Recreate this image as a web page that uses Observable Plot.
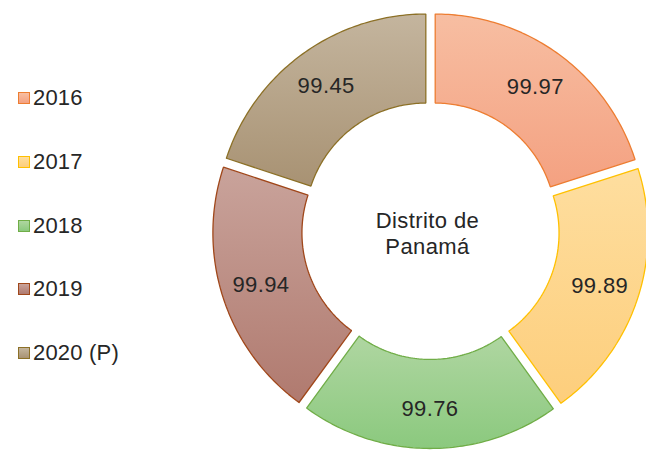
<!DOCTYPE html>
<html>
<head>
<meta charset="utf-8">
<script src="https://cdn.jsdelivr.net/npm/d3@7"></script>
<script src="https://cdn.jsdelivr.net/npm/@observablehq/plot@0.6"></script>
<style>
  html, body { margin: 0; padding: 0; background: #fff; }
  #wrap { position: relative; width: 646px; height: 452px; overflow: hidden; font-family: "Liberation Sans", Arial, sans-serif; }
  #legend { position: absolute; left: 0; top: 0; }
  .row { position: absolute; left: 18px; display: flex; align-items: center; height: 26px; color: #262626; font-size: 22px; white-space: nowrap; letter-spacing: 0.2px; }
  .sw { width: 10px; height: 10px; margin-right: 3px; border: 1.5px solid; flex: none; }
  svg text { letter-spacing: 0.4px; }
</style>
</head>
<body>
<div id="wrap"><div id="legend"></div></div>
<script>
// ---- data ----
const years = ["2016", "2017", "2018", "2019", "2020 (P)"];
const values = [99.97, 99.89, 99.76, 99.94, 99.45];
const valueLabels = ["99.97", "99.89", "99.76", "99.94", "99.45"];
const centerLabel = "Distrito de\nPanamá";
// ---- styles ----
const topColors = ["#F7BEA2", "#FEDE9F", "#AFD6A1", "#C9A39B", "#C4B59E"];
const bottomColors = ["#F4A181", "#FDCE7C", "#8BC97E", "#B07A6F", "#A89273"];
const strokeColors = ["#ED7D31", "#FFC000", "#70AD47", "#A0471A", "#8C7026"];

const RI = 0.576;   // inner radius (outer = 1)
const OFF = 0.038;  // explosion offset
const LR = 0.81;    // label radius

const arcs = d3.pie().sort(null).value(d => d)(values);

function slicePoints(a, i) {
  const mid = (a.startAngle + a.endAngle) / 2;
  const ox = OFF * Math.sin(mid), oy = OFF * Math.cos(mid);
  const pts = [];
  const n = 80;
  for (let k = 0; k <= n; k++) {
    const t = a.startAngle + (a.endAngle - a.startAngle) * k / n;
    pts.push({x: ox + Math.sin(t), y: oy + Math.cos(t), i});
  }
  for (let k = n; k >= 0; k--) {
    const t = a.startAngle + (a.endAngle - a.startAngle) * k / n;
    pts.push({x: ox + RI * Math.sin(t), y: oy + RI * Math.cos(t), i});
  }
  pts.push(pts[0]);
  return pts;
}

const labelData = arcs.map((a, i) => {
  const mid = (a.startAngle + a.endAngle) / 2;
  return {x: (LR + OFF) * Math.sin(mid), y: (LR + OFF) * Math.cos(mid), label: valueLabels[i]};
});

const sliceMarks = arcs.map((a, i) => Plot.line(slicePoints(a, i), {
  x: "x", y: "y", curve: "linear",
  fill: `url(#grad${i})`, stroke: strokeColors[i], strokeWidth: 1.3,
  strokeLinejoin: "miter"
}));

const plot = Plot.plot({
  width: 646,
  height: 452,
  marginLeft: 220,
  marginRight: 6,
  marginTop: 20,
  marginBottom: 12,
  x: {domain: [-1, 1], axis: null},
  y: {domain: [-1, 1], axis: null},
  style: {fontFamily: "'Liberation Sans', Arial, sans-serif", background: "transparent", overflow: "visible"},
  marks: [
    ...sliceMarks,
    Plot.text(labelData, {x: "x", y: "y", text: "label", fontSize: 22, fill: "#262626"}),
    Plot.text([centerLabel], {x: () => 0, y: () => 0, text: d => d, fontSize: 22, lineHeight: 1.2, fill: "#262626", dx: -3, dy: 2})
  ]
});

// gradients
const defs = d3.create("svg:defs");
topColors.forEach((c, i) => {
  const g = defs.append("linearGradient").attr("id", `grad${i}`).attr("x1", 0).attr("y1", 0).attr("x2", 0).attr("y2", 1);
  g.append("stop").attr("offset", "0%").attr("stop-color", c);
  g.append("stop").attr("offset", "100%").attr("stop-color", bottomColors[i]);
});
plot.insertBefore(defs.node(), plot.firstChild);

const wrap = document.getElementById("wrap");
wrap.insertBefore(plot, wrap.firstChild);
plot.style.position = "absolute";
plot.style.left = "0px";
plot.style.top = "0px";

// legend
const legend = document.getElementById("legend");
years.forEach((y, i) => {
  const row = document.createElement("div");
  row.className = "row";
  row.style.top = (98 - 13 + i * 63.8) + "px";
  const sw = document.createElement("span");
  sw.className = "sw";
  sw.style.borderColor = strokeColors[i];
  sw.style.background = `linear-gradient(${topColors[i]}, ${bottomColors[i]})`;
  const tx = document.createElement("span");
  tx.textContent = y;
  row.appendChild(sw);
  row.appendChild(tx);
  legend.appendChild(row);
});
</script>
</body>
</html>
